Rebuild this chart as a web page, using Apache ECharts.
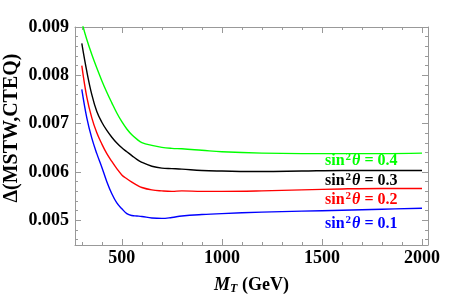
<!DOCTYPE html>
<html><head><meta charset="utf-8">
<script src="https://cdn.jsdelivr.net/npm/echarts@6/dist/echarts.min.js"></script>
<style>html,body{margin:0;padding:0;background:#fff}#c{width:457px;height:300px}</style>
</head><body><div id="c"></div>
<script>
// M_T grid (GeV)
const mt = [300,325,350,375,400,425,450,475,500,525,550,575,600,650,700,750,800,900,1000,1200,1400,1600,1800,2000];
const s04 = [0.00910,0.00874,0.00843,0.00815,0.00789,0.00765,0.00743,0.00722,0.00704,0.00689,0.00677,0.00668,0.00661,0.00655,0.00651,0.00649,0.00648,0.00645,0.00642,0.00639,0.00638,0.00638,0.00638,0.00639];
const s03 = [0.00866,0.00808,0.00760,0.00725,0.00703,0.00686,0.00672,0.00660,0.00650,0.00642,0.00634,0.00626,0.00620,0.00612,0.00608,0.00607,0.00606,0.00603,0.00602,0.00601,0.00602,0.00603,0.00603,0.00603];
const s02 = [0.00820,0.00755,0.00712,0.00681,0.00658,0.00638,0.00622,0.00607,0.00594,0.00586,0.00579,0.00573,0.00568,0.00563,0.00561,0.00560,0.00561,0.00560,0.00560,0.00561,0.00563,0.00565,0.00566,0.00566];
const s01 = [0.00771,0.00712,0.00670,0.00638,0.00610,0.00580,0.00555,0.00536,0.00524,0.00514,0.00510,0.00509,0.00508,0.00505,0.00504,0.00506,0.00509,0.00512,0.00514,0.00517,0.00519,0.00521,0.00523,0.00525];
const xMajor = [500,1000,1500,2000];
const yMajor = [0.005,0.006,0.007,0.008,0.009];
const labels = ['0.4','0.3','0.2','0.1'];
const colors = ['#00ff00','#000000','#ff0000','#0000ff'];

const xMinor = []; for (let v = 300; v <= 2000; v += 100) if (xMajor.indexOf(v) < 0) xMinor.push(v);
const yMinor = []; for (let k = 23; k <= 45; k++) { if (k % 5) yMinor.push(k * 0.0002); }

const font = 'Liberation Serif';
const frame = {show:true, lineStyle:{color:'#999', width:1}};
function xAx(pos, vals, len, line, lab) {
  return {type:'value', position:pos, min:266, max:2030,
    axisLine: line ? frame : {show:false},
    axisTick:{show:true, inside:true, length:len, customValues:vals, lineStyle:{color:'#999'}},
    axisLabel: lab ? {show:true, customValues:vals, color:'#000', fontFamily:font, fontWeight:'bold', fontSize:18, margin:4, formatter:v=>String(Math.round(v))} : {show:false},
    splitLine:{show:false}};
}
function yAx(pos, vals, len, line, lab) {
  return {type:'value', position:pos, min:0.00449, max:0.009,
    axisLine: line ? frame : {show:false},
    axisTick:{show:true, inside:true, length:len, customValues:vals, lineStyle:{color:'#999'}},
    axisLabel: lab ? {show:true, customValues:vals, color:'#000', fontFamily:font, fontWeight:'bold', fontSize:18, margin:6, formatter:v=>v.toFixed(3)} : {show:false},
    splitLine:{show:false}};
}
const xa0 = xAx('bottom', xMajor, 6, true, true);
xa0.name = '{i|M}{s|T}{n| (GeV)}';
xa0.nameLocation = 'middle';
xa0.nameGap = 30;
xa0.nameTextStyle = {rich:{
  i:{fontFamily:font, fontWeight:'bold', fontStyle:'italic', fontSize:18, color:'#000'},
  s:{fontFamily:font, fontWeight:'bold', fontStyle:'italic', fontSize:12, color:'#000', verticalAlign:'bottom', padding:[8,0,0,0]},
  n:{fontFamily:font, fontWeight:'bold', fontSize:18, color:'#000'}}};

const seriesData = [s04, s03, s02, s01];
const series = seriesData.map((arr, i) => ({
  type:'line', xAxisIndex:0, yAxisIndex:0, smooth:0.4, showSymbol:false, clip:true,
  lineStyle:{color:colors[i], width:1.4},
  data: mt.map((x, j) => [x, arr[j]])
}));

const labY = [161, 181, 200, 224];
const graphic = labels.map((t, i) => ({
  type:'text', left:325, top:labY[i]-9,
  style:{text:'{a|sin}{b|2}{c|θ}{a| = ' + t + '}', rich:{
    a:{fontFamily:font, fontWeight:'bold', fontSize:16, fill:colors[i]},
    b:{fontFamily:font, fontWeight:'bold', fontSize:11, fill:colors[i], verticalAlign:'top', padding:[0,1,6,1]},
    c:{fontFamily:font, fontWeight:'bold', fontStyle:'italic', fontSize:16, fill:colors[i]}}}
}));
graphic.push({type:'text', x:12, y:128, rotation:Math.PI/2, style:{
  text:'Δ(MSTW,CTEQ)', fontFamily:font, fontWeight:'bold', fontSize:20, fill:'#000', align:'center', verticalAlign:'middle'}});

const chart = echarts.init(document.getElementById('c'));
chart.setOption({
  animation:false,
  grid:{left:75, right:29, top:27, bottom:53},
  xAxis:[xa0, xAx('bottom', xMinor, 3, false, false), xAx('top', xMajor, 6, true, false), xAx('top', xMinor, 3, false, false)],
  yAxis:[yAx('left', yMajor, 6, true, true), yAx('left', yMinor, 3, false, false), yAx('right', yMajor, 6, true, false), yAx('right', yMinor, 3, false, false)],
  series: series,
  graphic: graphic
});
</script></body></html>
